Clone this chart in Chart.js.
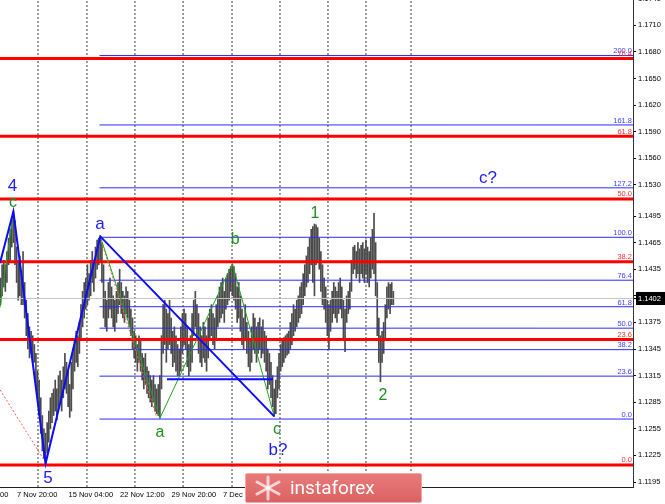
<!DOCTYPE html>
<html><head><meta charset="utf-8">
<script src="https://cdn.jsdelivr.net/npm/chart.js@4.4.1/dist/chart.umd.min.js"></script>
<style>
html,body{margin:0;padding:0;background:#fff;}
#wrap{position:relative;width:665px;height:504px;overflow:hidden;}
#wm{position:absolute;left:245px;top:473px;width:177px;height:30px;background:linear-gradient(#e97a7a,#db6262);border:1px solid #f0a8a8;box-sizing:border-box;border-radius:2px;}
#wm span{position:absolute;left:44px;top:4px;font:19px Roboto, sans-serif;line-height:19px;color:#fff;}
#wm svg{position:absolute;left:7px;top:1px;}
</style></head>
<body><div id="wrap"><canvas id="c" width="665" height="504"></canvas>
<div id="wm"><svg width="30" height="26" viewBox="0 0 30 26"><g stroke="#fff" stroke-opacity="0.7" stroke-width="3" stroke-linecap="round"><line x1="15" y1="2" x2="15" y2="24"/><line x1="4" y1="7" x2="26" y2="19"/><line x1="4" y1="19" x2="26" y2="7"/></g></svg><span>instaforex</span></div></div>
<script>
// ---- H4 bars (EURUSD), index 0..244 ----
const lows = [1.1395,1.1405,1.1415,1.1410,1.1420,1.1440,1.1445,1.1460,1.1465,1.1440,
1.1420,1.1400,1.1405,1.1395,1.1395,1.1380,1.1360,1.1345,1.1335,1.1340,
1.1330,1.1330,1.1300,1.1290,1.1270,1.1250,1.1230,1.1222,1.1216,1.1228,
1.1240,1.1255,1.1262,1.1270,1.1275,1.1265,1.1280,1.1285,1.1275,1.1290,
1.1300,1.1295,1.1280,1.1268,1.1275,1.1300,1.1320,1.1330,1.1325,1.1340,
1.1355,1.1370,1.1380,1.1390,1.1395,1.1400,1.1405,1.1420,1.1410,1.1425,
1.1435,1.1440,1.1445,1.1420,1.1380,1.1370,1.1365,1.1380,1.1390,1.1380,
1.1370,1.1365,1.1375,1.1385,1.1395,1.1385,1.1380,1.1375,1.1385,1.1380,
1.1370,1.1360,1.1345,1.1335,1.1330,1.1320,1.1330,1.1320,1.1310,1.1300,
1.1305,1.1295,1.1290,1.1285,1.1280,1.1285,1.1275,1.1272,1.1270,1.1267,
1.1300,1.1340,1.1350,1.1330,1.1345,1.1350,1.1340,1.1325,1.1330,1.1320,
1.1315,1.1315,1.1320,1.1340,1.1350,1.1345,1.1325,1.1315,1.1320,1.1330,
1.1360,1.1370,1.1355,1.1340,1.1330,1.1325,1.1335,1.1330,1.1320,1.1335,
1.1355,1.1360,1.1350,1.1345,1.1355,1.1370,1.1375,1.1380,1.1385,1.1375,
1.1390,1.1395,1.1400,1.1410,1.1405,1.1400,1.1390,1.1375,1.1380,1.1365,
1.1350,1.1345,1.1355,1.1340,1.1325,1.1320,1.1330,1.1345,1.1340,1.1330,
1.1340,1.1345,1.1335,1.1340,1.1330,1.1320,1.1300,1.1305,1.1290,1.1280,
1.1269,1.1272,1.1290,1.1300,1.1320,1.1325,1.1330,1.1335,1.1338,1.1340,
1.1345,1.1350,1.1360,1.1365,1.1370,1.1375,1.1380,1.1385,1.1395,1.1405,
1.1415,1.1420,1.1430,1.1440,1.1420,1.1405,1.1440,1.1445,1.1435,1.1410,
1.1395,1.1390,1.1375,1.1360,1.1345,1.1365,1.1375,1.1385,1.1380,1.1375,
1.1385,1.1390,1.1380,1.1355,1.1342,1.1375,1.1385,1.1390,1.1410,1.1430,
1.1435,1.1425,1.1430,1.1420,1.1430,1.1425,1.1420,1.1430,1.1420,1.1415,
1.1425,1.1435,1.1430,1.1405,1.1360,1.1330,1.1308,1.1330,1.1340,1.1355,
1.1380,1.1390,1.1385,1.1395,1.1395];
const highs = [1.1425,1.1440,1.1445,1.1440,1.1455,1.1470,1.1480,1.1490,1.1500,1.1490,
1.1460,1.1445,1.1450,1.1430,1.1455,1.1420,1.1400,1.1385,1.1370,1.1365,
1.1360,1.1350,1.1340,1.1320,1.1310,1.1290,1.1270,1.1255,1.1250,1.1262,
1.1275,1.1290,1.1295,1.1300,1.1310,1.1300,1.1315,1.1320,1.1310,1.1325,
1.1340,1.1330,1.1320,1.1305,1.1330,1.1345,1.1355,1.1365,1.1360,1.1375,
1.1395,1.1410,1.1420,1.1425,1.1440,1.1430,1.1445,1.1455,1.1445,1.1460,
1.1468,1.1470,1.1472,1.1465,1.1440,1.1410,1.1400,1.1420,1.1425,1.1415,
1.1405,1.1400,1.1410,1.1420,1.1435,1.1420,1.1410,1.1405,1.1415,1.1410,
1.1400,1.1390,1.1380,1.1365,1.1360,1.1350,1.1360,1.1355,1.1340,1.1335,
1.1340,1.1325,1.1320,1.1315,1.1310,1.1315,1.1305,1.1300,1.1305,1.1315,
1.1360,1.1395,1.1400,1.1390,1.1385,1.1400,1.1380,1.1365,1.1370,1.1360,
1.1350,1.1345,1.1370,1.1385,1.1390,1.1385,1.1370,1.1350,1.1360,1.1385,
1.1400,1.1410,1.1395,1.1385,1.1370,1.1360,1.1375,1.1370,1.1360,1.1380,
1.1390,1.1395,1.1385,1.1380,1.1395,1.1405,1.1415,1.1420,1.1425,1.1410,
1.1425,1.1430,1.1435,1.1438,1.1441,1.1438,1.1430,1.1415,1.1420,1.1405,
1.1390,1.1380,1.1395,1.1375,1.1365,1.1355,1.1370,1.1385,1.1380,1.1370,
1.1375,1.1380,1.1370,1.1378,1.1365,1.1360,1.1345,1.1340,1.1330,1.1315,
1.1300,1.1310,1.1325,1.1340,1.1350,1.1355,1.1358,1.1360,1.1362,1.1365,
1.1375,1.1385,1.1395,1.1390,1.1400,1.1405,1.1415,1.1420,1.1430,1.1440,
1.1450,1.1460,1.1470,1.1480,1.1483,1.1486,1.1485,1.1482,1.1470,1.1455,
1.1440,1.1425,1.1415,1.1400,1.1395,1.1400,1.1410,1.1420,1.1415,1.1410,
1.1420,1.1425,1.1415,1.1400,1.1390,1.1405,1.1410,1.1420,1.1445,1.1460,
1.1462,1.1455,1.1465,1.1458,1.1462,1.1465,1.1458,1.1468,1.1460,1.1455,
1.1470,1.1480,1.1498,1.1465,1.1420,1.1380,1.1360,1.1365,1.1375,1.1395,
1.1415,1.1420,1.1418,1.1420,1.1410];
const lastPrice = 1.1402;

// time axis
const xTickIdx  = [-23, 9, 41, 73, 105, 137, 169, 201];
const xTickText = ['31 Oct 12:00','7 Nov 20:00','15 Nov 04:00','22 Nov 12:00','29 Nov 20:00','7 Dec 04:00','14 Dec 12:00','21 Dec 20:00'];
const weekGridIdx = [23.3, 53.7, 83.5, 113.4, 143.8, 173.6, 203.4, 227.0, 255.0];
// price axis
const yTicks = [1.1740,1.1710,1.1680,1.1650,1.1620,1.1590,1.1560,1.1530,1.1495,1.1465,1.1435,1.1405,1.1375,1.1345,1.1315,1.1285,1.1255,1.1225,1.1195];

// Fibonacci levels (prices)
const fibBlueText   = ['0.0','23.6','38.2','50.0','61.8','76.4','100.0','127.2','161.8','200.0'];
const fibBlueLevels = [1.12660,1.13144,1.13443,1.13685,1.13927,1.14226,1.14710,1.15268,1.15977,1.16760];
const fibBlueStart  = 61.5;
const fibRedText    = ['0.0','23.6','38.2','50.0','61.8','76.4'];
const fibRedLevels  = [1.12142,1.13558,1.14434,1.15142,1.15850,1.16726];

// wave lines
const waveBlueX = [-0.31, 8, 28, 62, 170];
const waveBlueY = [1.1442, 1.1500, 1.1216, 1.1472, 1.1269];
const waveGreen1X = [-0.31, 8];
const waveGreen1Y = [1.1392, 1.1500];
const waveGreen2X = [62, 99, 144, 170];
const waveGreen2Y = [1.1472, 1.1267, 1.1441, 1.1269];
const redDot1X = [62, 97];
const redDot1Y = [1.1470, 1.1268];
const redDot2X = [-0.31, 27];
const redDot2Y = [1.1299, 1.1220];
const boxLineX = [103.4, 169.3];
const boxLineY = [1.1311, 1.1311];

// wave labels
const waveText  = ['4','c','a','b','1','c?','a','c','b?','5','2'];
const waveAtX   = [7.5, 7.8, 61.8, 145.7, 195.3, 302.8, 99.1, 171.7, 172.4, 29.5, 237.6];
const waveAtY   = [1.1529, 1.1510, 1.1486, 1.1468, 1.1498, 1.1538, 1.1251, 1.1254, 1.1231, 1.11995, 1.1293];
const waveIsBlue= [true,false,true,false,false,true,false,false,true,true,false];

const X_MIN = -0.31, X_MAX = 392.86;
const Y_MIN = 1.118937, Y_MAX = 1.173865;

const pts = (xs, ys) => xs.map((x, i) => ({x, y: ys[i]}));
const levelSegs = (levels, x0, x1) => levels.flatMap(v => [{x:x0,y:v},{x:x1,y:v},{x:x1,y:NaN}]);
const vertSegs = (xs) => xs.flatMap(x => [{x, y:Y_MIN},{x, y:Y_MAX},{x, y:NaN}]);

const BLUE = '#0b0bff', GREEN = '#22a022', RED = '#ff0000';
const FONT = '"Liberation Sans", Arial, sans-serif';
Chart.defaults.font.family = FONT;

const labelPlugin = {
  id: 'labelPlugin',
  afterDatasetsDraw(chart) {
    const {ctx, chartArea, scales} = chart;
    const x = scales.x, y = scales.y;
    ctx.save();
    ctx.font = '7.5px ' + FONT;
    ctx.textAlign = 'right';
    ctx.textBaseline = 'bottom';
    fibBlueLevels.forEach((v, i) => {
      ctx.fillStyle = '#4040ff';
      ctx.fillText(fibBlueText[i], chartArea.right - 1, y.getPixelForValue(v) - 0.5);
    });
    fibRedLevels.forEach((v, i) => {
      ctx.fillStyle = '#ff3030';
      ctx.fillText(fibRedText[i], chartArea.right - 1, y.getPixelForValue(v) - 1);
    });
    ctx.textAlign = 'center';
    ctx.textBaseline = 'middle';
    waveText.forEach((t, i) => {
      ctx.font = (waveIsBlue[i] ? '17px ' : '16px ') + FONT;
      ctx.fillStyle = waveIsBlue[i] ? '#1c1cf0' : '#1e901e';
      ctx.fillText(t, x.getPixelForValue(waveAtX[i]), y.getPixelForValue(waveAtY[i]));
    });
    ctx.restore();
  }
};

const lineDs = (data, color, width, order, dash) => ({
  type: 'line', data, borderColor: color, borderWidth: width, pointRadius: 0,
  fill: false, tension: 0, spanGaps: false, order, borderDash: dash || [],
  xAxisID: 'x', yAxisID: 'y'
});

new Chart(document.getElementById('c'), {
  type: 'bar',
  data: {
    datasets: [
      lineDs(vertSegs(weekGridIdx), '#3a3a3a', 1, 20, [2, 2]),
      {
        type: 'bar',
        data: lows.map((lo, i) => ({x: i, y: [lo, highs[i]]})),
        backgroundColor: '#4a4a4a',
        borderWidth: 0,
        barThickness: 1,
        order: 10, xAxisID: 'x', yAxisID: 'y'
      },
      lineDs([{x:X_MIN,y:lastPrice},{x:X_MAX,y:lastPrice}], '#c4c4c4', 1, 9),
      lineDs(levelSegs(fibBlueLevels, fibBlueStart, X_MAX), '#2a2aff', 1, 8),
      lineDs(levelSegs(fibRedLevels, X_MIN, X_MAX), RED, 3, 7),
      lineDs(pts(redDot2X, redDot2Y), '#ff5a5a', 1, 6, [2, 2]),
      lineDs(pts(redDot1X, redDot1Y), '#ff5a5a', 1, 6, [2, 2]),
      lineDs(pts(waveGreen1X, waveGreen1Y), GREEN, 1, 5),
      lineDs(pts(waveGreen2X, waveGreen2Y), GREEN, 1, 5),
      lineDs(pts(boxLineX, boxLineY), BLUE, 2, 4),
      lineDs(pts(waveBlueX, waveBlueY), BLUE, 2, 3)
    ]
  },
  options: {
    responsive: false,
    animation: false,
    devicePixelRatio: 1,
    layout: {padding: 0},
    plugins: {legend: {display: false}, tooltip: {enabled: false}},
    scales: {
      x: {
        type: 'linear', position: 'bottom', min: X_MIN, max: X_MAX, offset: false,
        grid: {display: false, drawTicks: false, offset: false},
        border: {display: true, color: '#222', width: 1},
        ticks: {
          autoSkip: false, maxRotation: 0, minRotation: 0, align: 'start', labelOffset: 2,
          padding: 3, color: '#000', font: {size: 7.5},
          callback: (v, i) => xTickText[i]
        },
        afterBuildTicks: s => { s.ticks = xTickIdx.map(v => ({value: v})); },
        afterFit: s => { s.height = 17; s.paddingLeft = 0; s.paddingRight = 0; }
      },
      y: {
        type: 'linear', position: 'right', min: Y_MIN, max: Y_MAX,
        grid: {display: true, drawOnChartArea: false, drawTicks: true, tickLength: 3, tickColor: '#000'},
        border: {display: true, color: '#333', width: 1},
        ticks: {
          autoSkip: false, padding: 2, font: {size: 7.5},
          color: c => c.tick && c.tick.value === lastPrice ? '#fff' : '#000',
          showLabelBackdrop: c => !!(c.tick && c.tick.value === lastPrice),
          backdropColor: '#000',
          backdropPadding: {left: 2, right: 6, top: 2, bottom: 2},
          callback: v => v.toFixed(4)
        },
        afterBuildTicks: s => { s.ticks = yTicks.concat([lastPrice]).map(v => ({value: v})); },
        afterFit: s => { s.width = 32; s.paddingTop = 0; s.paddingBottom = 0; }
      }
    }
  },
  plugins: [labelPlugin]
});
</script>
</body></html>
